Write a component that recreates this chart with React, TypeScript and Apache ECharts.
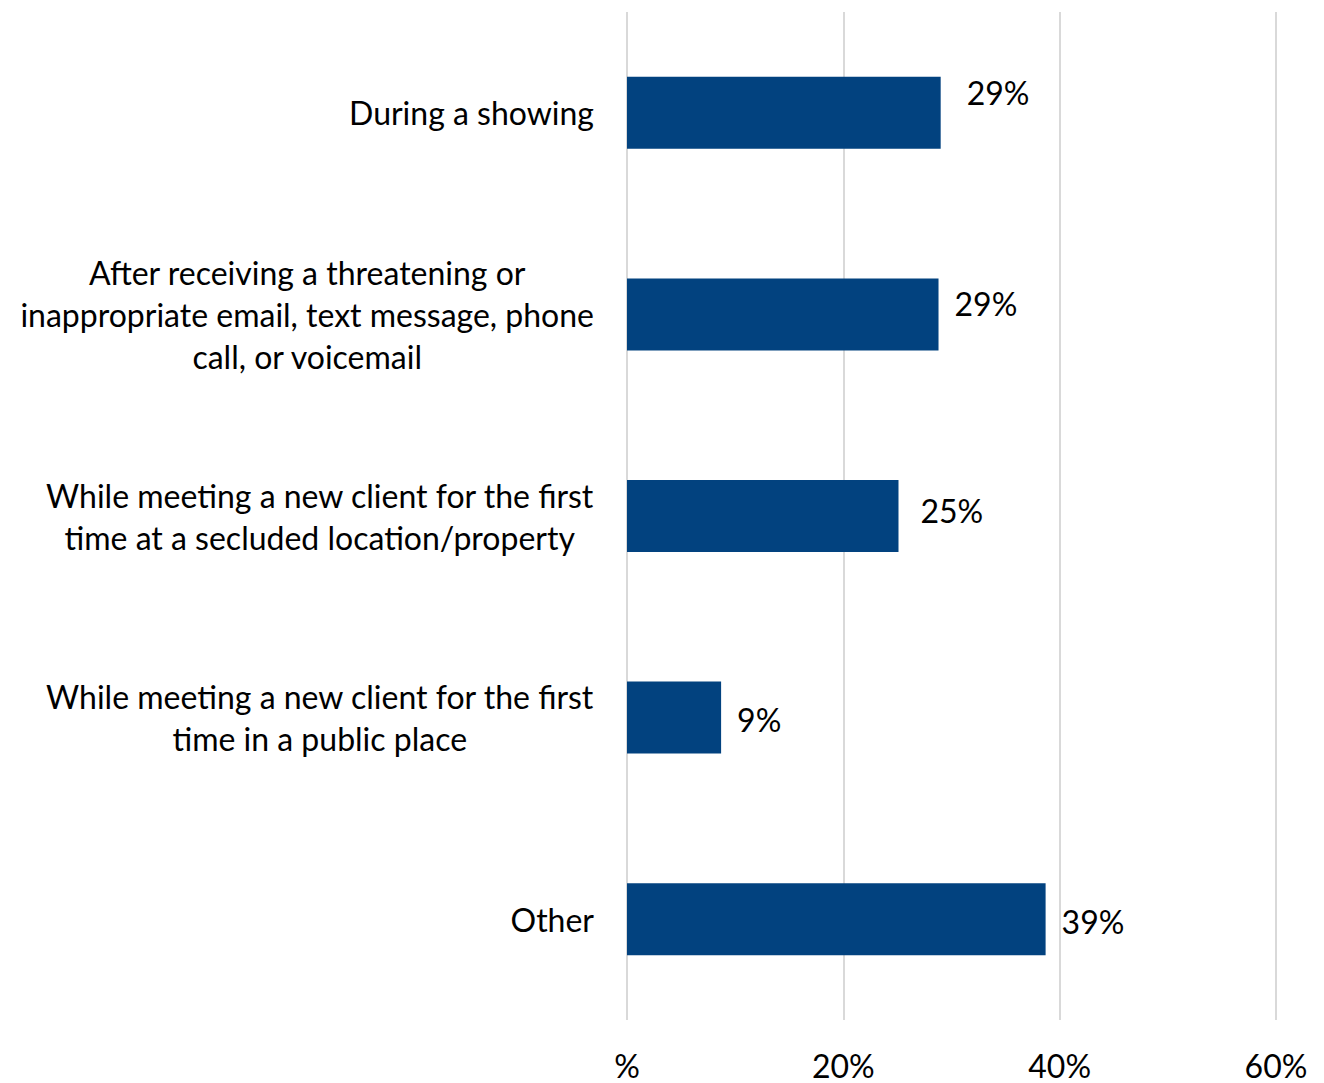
import React, { useEffect, useRef } from "react";
import * as echarts from "echarts";

const categories = [
  "During a showing",
  "After receiving a threatening or\ninappropriate email, text message, phone\ncall, or voicemail",
  "While meeting a new client for the first\ntime at a secluded location/property",
  "While meeting a new client for the first\ntime in a public place",
  "Other",
];
const values = [29.0, 28.8, 25.1, 8.7, 38.7];
const labelOffsets = [
  [10, -20],
  [0, -11],
  [6, -6],
  [0, 2],
  [0, 2],
];
const xTicks = [0, 20, 40, 60];

const FONT = "Lato, 'Noto Sans', sans-serif";
const FS = 32;

export default function App() {
  const ref = useRef<HTMLDivElement>(null);
  useEffect(() => {
    document.body.style.margin = "0";
    const chart = echarts.init(ref.current!, null, { renderer: "svg" });
    chart.setOption({
      animation: false,
      backgroundColor: "#ffffff",
      grid: { left: 627, right: 48, top: 12, bottom: 63, outerBoundsMode: "none" },
      xAxis: {
        type: "value",
        min: xTicks[0],
        max: xTicks[xTicks.length - 1],
        interval: 20,
        axisLine: { show: false },
        axisTick: { show: false },
        splitLine: { show: true, lineStyle: { color: "#d9d9d9", width: 2 } },
        axisLabel: {
          fontFamily: FONT,
          fontSize: FS,
          color: "#000",
          margin: 45,
          verticalAlign: "middle",
          lineHeight: 26,
          formatter: (v: number) => (v === 0 ? "%" : v + "%"),
        },
      },
      yAxis: {
        type: "category",
        inverse: true,
        data: categories,
        axisLine: { show: false },
        axisTick: { show: false },
        axisLabel: {
          fontFamily: FONT,
          fontSize: FS,
          color: "#000",
          margin: 33,
          align: "right",
          lineHeight: 42,
          formatter: (v: string) =>
            v
              .split("\n")
              .map((l) => "{c|" + l + "}")
              .join("\n"),
          rich: {
            c: {
              align: "center",
              fontFamily: FONT,
              fontSize: FS,
              color: "#000",
              lineHeight: 42,
            },
          },
        },
      },
      series: [
        {
          type: "bar",
          barWidth: 72,
          itemStyle: { color: "#02427f" },
          data: values.map((v, i) => ({
            value: v,
            label: { offset: labelOffsets[i] },
          })),
          label: {
            show: true,
            position: "right",
            distance: 16,
            fontFamily: FONT,
            fontSize: FS,
            color: "#000",
            formatter: (p: any) => Math.round(p.value) + "%",
          },
        },
      ],
    });
    return () => chart.dispose();
  }, []);
  return <div ref={ref} style={{ width: 1324, height: 1083 }} />;
}
